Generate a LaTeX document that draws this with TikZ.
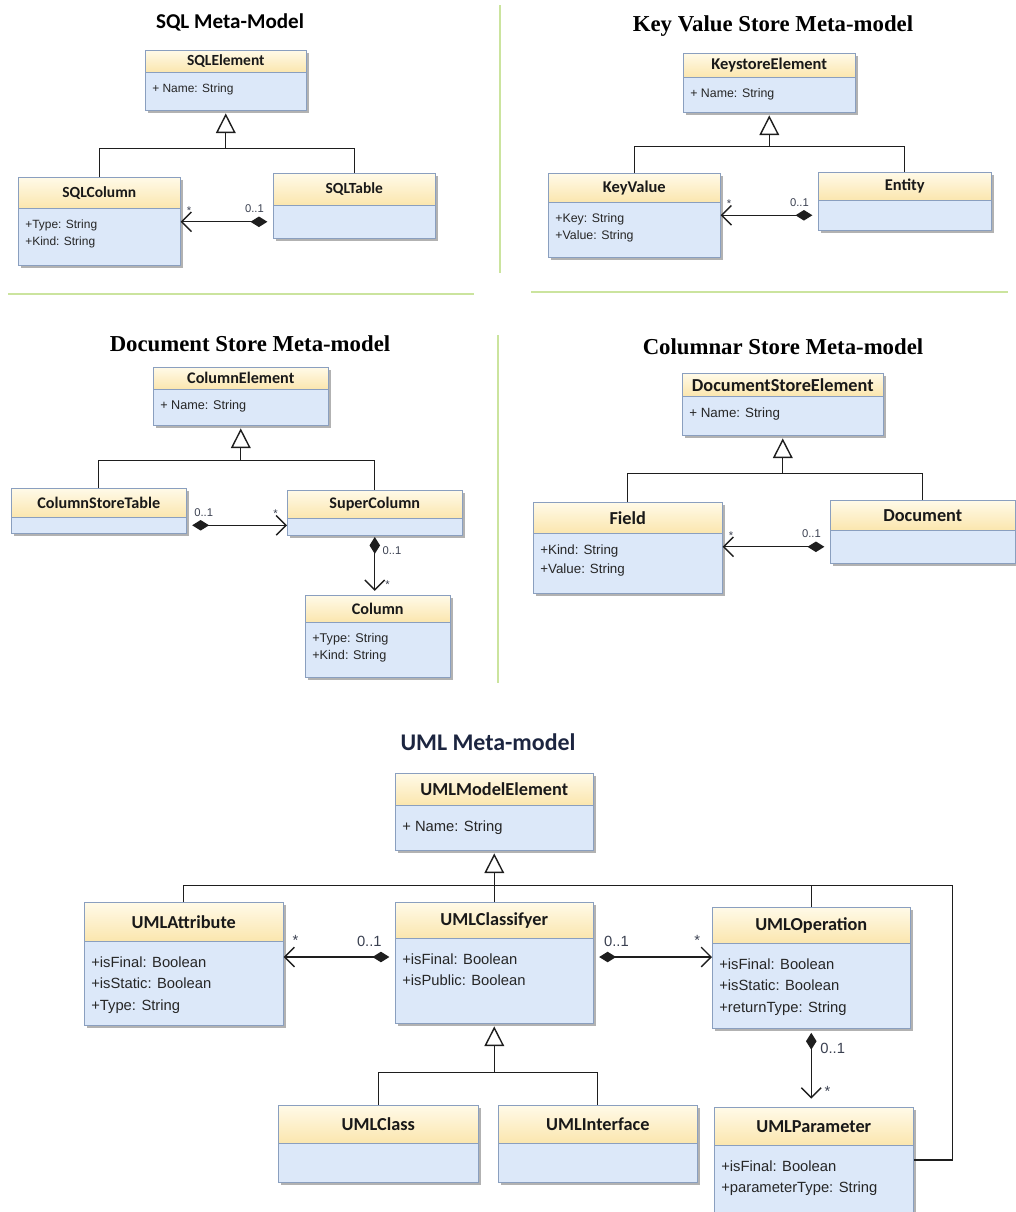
\documentclass[tikz,border=0pt]{standalone}
\usepackage{fontspec}
\setmainfont{Liberation Sans}
\newfontfamily\calibrifont{Carlito}
\newfontfamily\timesfont{Liberation Serif}
\usetikzlibrary{arrows.meta}

\definecolor{headtop}{HTML}{FFFAE8}
\definecolor{headbot}{HTML}{FBE6AE}
\definecolor{bodyfill}{HTML}{DCE8F9}
\definecolor{boxline}{HTML}{8A9FBF}
\definecolor{divgreen}{HTML}{CBE49E}
\definecolor{linecol}{HTML}{1E1E1E}
\definecolor{multcol}{HTML}{3A4050}
\definecolor{umlnavy}{HTML}{1C2540}

\tikzset{
  classhead/.style={draw=boxline, top color=headtop, bottom color=headbot, inner sep=0pt, anchor=north west, text=black!90, namefont},
  classbody/.style={draw=boxline, fill=bodyfill, inner sep=0pt, anchor=north west},
  attrs/.style={anchor=north west, inner xsep=5pt, align=left, text=black!85, attrfont},
  namefont/.style={font=\calibrifont\bfseries\fontsize{11}{13}\selectfont},
  attrfont/.style={font=\fontsize{8.5}{12}\selectfont, inner ysep=8pt},
  boxshadow/.style={fill=black!30},
  tree/.style={draw=linecol, line width=1pt},
  inherit/.style={tree, -{Triangle[length=14pt, width=14pt, fill=white]}, shorten >=2pt},
  comp/.style={draw=linecol, line width=1pt, {Diamond[length=12pt, width=7.5pt]}-{Straight Barb[length=7pt, width=14pt]}, shorten <=4pt},
  mult/.style={font=\fontsize{8}{9}\selectfont, text=multcol, inner sep=1pt},
  sanstitle/.style={font=\calibrifont\bfseries\fontsize{15}{18}\selectfont},
  seriftitle/.style={font=\timesfont\bfseries\fontsize{16.2}{19}\selectfont},
  divider/.style={draw=divgreen, line width=1.2pt}
}

% #1 name, #2 left, #3 top, #4 right, #5 bottom of head, #6 bottom, #7 class, #8 attributes
\newcommand{\classbox}[8]{%
  \fill[boxshadow] (#2+3,#3+3) rectangle (#4+3,#6+3);
  \node[classhead, minimum width={(#4-#2)*0.025cm}, minimum height={(#5-#3)*0.025cm}] (#1-h) at (#2,#3) {#7};
  \node[classbody, minimum width={(#4-#2)*0.025cm}, minimum height={(#6-#5)*0.025cm},
        label={[attrs, name=#1-a]north west:{#8}}] (#1) at (#2,#5) {};
}

\begin{document}
\begin{tikzpicture}[x=0.025cm, y=-0.025cm]
    \useasboundingbox (0,0) rectangle (1016,1212);
    \clip (0,0) rectangle (1016,1212);

    %dividers:
    \draw[divider] (500,5) -- (500,273);
    \draw[divider] (8,294) -- (474,294);
    \draw[divider] (531,292) -- (1008,292);
    \draw[divider] (498,335) -- (498,683);

    %SQL:
    \begin{scope}
        \node[sanstitle] (sqltitle) at (230,22) {SQL Meta-Model};
        \classbox{sqlelem}{145}{50}{306}{72}{110}{SQLElement}{+ Name: String}
        \classbox{sqlcol}{18}{177}{180}{208}{265}{SQLColumn}{+Type: String\\+Kind: String}
        \classbox{sqltab}{273}{173}{435}{205}{238}{SQLTable}{}
        \path (sqlelem.south) ++(0,38) coordinate (sqlj);
        \draw[tree] (sqlcol-h.north) |- (sqlj) -| (sqltab-h.north);
        \draw[inherit] (sqlj) -- (sqlelem.south);
        \draw[comp] (sqltab.west) -- (sqltab.west -| sqlcol.east)
            node[mult, pos=0, anchor=south east, xshift=-5pt, yshift=5pt] (sqlm1) {0..1}
            node[mult, pos=1, anchor=south west, xshift=3pt, yshift=4pt] (sqlm2) {*};
    \end{scope}

    %key value:
    \begin{scope}[namefont/.style={font=\calibrifont\bfseries\fontsize{11.7}{13}\selectfont},
                  attrfont/.style={font=\fontsize{8.8}{12}\selectfont, inner ysep=8pt}]
        \node[seriftitle] (kvtitle) at (773,26) {Key Value Store Meta-model};
        \classbox{kselem}{683}{53}{855}{77}{112}{KeystoreElement}{+ Name: String}
        \classbox{keyval}{548}{173}{720}{202}{257}{KeyValue}{+Key: String\\+Value: String}
        \classbox{entity}{818}{172}{991}{200}{230}{Entity}{}
        \path (kselem.south) ++(0,34) coordinate (ksj);
        \draw[tree] (keyval-h.north) |- (ksj) -| (entity-h.north);
        \draw[inherit] (ksj) -- (kselem.south);
        \draw[comp] (entity.west) -- (entity.west -| keyval.east)
            node[mult, pos=0, anchor=south east, xshift=-5pt, yshift=5pt] (kvm1) {0..1}
            node[mult, pos=1, anchor=south west, xshift=3pt, yshift=4pt] (kvm2) {*};
    \end{scope}

    %document store:
    \begin{scope}[namefont/.style={font=\calibrifont\bfseries\fontsize{11.5}{13}\selectfont},
                  attrfont/.style={font=\fontsize{9}{12}\selectfont, inner ysep=8pt}]
        \node[seriftitle] (dstitle) at (250,344) {Document Store Meta-model};
        \classbox{colelem}{153}{367}{328}{389}{425}{ColumnElement}{+ Name: String}
        \classbox{cstable}{11}{488}{186}{517}{533}{ColumnStoreTable}{}
        \classbox{supcol}{287}{490}{462}{518}{535}{SuperColumn}{}
        \classbox{column}{305}{595}{450}{622}{677}{Column}{+Type: String\\+Kind: String}
        \path (colelem.south) ++(0,35) coordinate (colj);
        \draw[tree] (cstable-h.north) |- (colj) -| (supcol-h.north);
        \draw[inherit] (colj) -- (colelem.south);
        \draw[comp] (cstable.east) -- (cstable.east -| supcol.west)
            node[mult, pos=0, anchor=south west, xshift=4pt, yshift=5pt] (dsm1) {0..1}
            node[mult, pos=1, anchor=south east, xshift=-5pt, yshift=4pt] (dsm2) {*};
        \draw[comp, shorten <=1pt, shorten >=3pt] (supcol.south) -- (supcol.south |- column-h.north)
            node[mult, pos=0.25, anchor=west, xshift=4pt] (dsm3) {0..1}
            node[mult, pos=0.83, anchor=west, xshift=6pt] (dsm4) {*};
    \end{scope}

    %columnar store:
    \begin{scope}[namefont/.style={font=\calibrifont\bfseries\fontsize{13}{14}\selectfont},
                  attrfont/.style={font=\fontsize{9.5}{13.5}\selectfont, inner ysep=8.5pt}]
        \node[seriftitle] (cstitle) at (783,347) {Columnar Store Meta-model};
        \classbox{dselem}{682}{373}{883}{396}{435}{DocumentStoreElement}{+ Name: String}
        \classbox{field}{533}{502}{722}{533}{593}{Field}{+Kind: String\\+Value: String}
        \classbox{document}{830}{500}{1015}{530}{563}{Document}{}
        \path (dselem.south) ++(0,38) coordinate (dsj);
        \draw[tree] (field-h.north) |- (dsj) -| (document-h.north);
        \draw[inherit] (dsj) -- (dselem.south);
        \draw[comp] (document.west) -- (document.west -| field.east)
            node[mult, pos=0, anchor=south east, xshift=-5pt, yshift=5pt] (csm1) {0..1}
            node[mult, pos=1, anchor=south west, xshift=3pt, yshift=4pt] (csm2) {*};
    \end{scope}

    %UML:
    \begin{scope}[namefont/.style={font=\calibrifont\bfseries\fontsize{13}{15}\selectfont},
                  attrfont/.style={font=\fontsize{10.5}{15.3}\selectfont, inner ysep=11pt},
                  mult/.style={font=\fontsize{10.5}{12}\selectfont, text=multcol, inner sep=1pt}]
        \node[sanstitle, font=\calibrifont\bfseries\fontsize{17}{20}\selectfont, text=umlnavy] (umltitle) at (488,742) {UML Meta-model};
        \classbox{umlme}{395}{773}{593}{805}{850}{UMLModelElement}{+ Name: String}
        \classbox{umlattr}{84}{902}{283}{941}{1025}{UMLAttribute}{+isFinal: Boolean\\+isStatic: Boolean\\+Type: String}
        \classbox{umlcls}{395}{902}{593}{938}{1023}{UMLClassifyer}{+isFinal: Boolean\\+isPublic: Boolean}
        \classbox{umlop}{712}{907}{910}{943}{1028}{UMLOperation}{+isFinal: Boolean\\+isStatic: Boolean\\+returnType: String}
        \classbox{umlclass}{278}{1105}{478}{1143}{1182}{UMLClass}{}
        \classbox{umlint}{498}{1105}{697}{1143}{1182}{UMLInterface}{}
        \classbox{umlpar}{714}{1107}{913}{1145}{1222}{UMLParameter}{+isFinal: Boolean\\+parameterType: String}
        %generalisation up:
        \path (umlme.south) ++(0,35) coordinate (umlj);
        \path (umlj -| umlpar.east) ++(39,0) coordinate (umlr);
        \path (umlpar.north east) ++(0,15) coordinate (umlpr);
        \draw[tree] (umlattr-h.north) |- (umlr) |- (umlpr);
        \draw[tree] (umlj) -- (umlcls-h.north);
        \draw[tree] (umlop-h.north) -- (umlop-h.north |- umlj);
        \draw[inherit] (umlj) -- (umlme.south);
        %generalisation down:
        \path (umlcls.south) ++(0,49) coordinate (umlj2);
        \draw[tree] (umlclass-h.north) |- (umlj2) -| (umlint-h.north);
        \draw[inherit] (umlj2) -- (umlcls.south);
        %compositions:
        \path (umlcls.north west) ++(0,19) coordinate (umlcl);
        \path (umlcls.north east) ++(0,19) coordinate (umlcr);
        \draw[comp] (umlcl) -- (umlcl -| umlattr.east)
            node[mult, pos=0, anchor=south east, xshift=-8pt, yshift=6pt] (umlm1) {0..1}
            node[mult, pos=1, anchor=south west, xshift=5pt, yshift=7pt] (umlm2) {*};
        \draw[comp] (umlcr) -- (umlcr -| umlop.west)
            node[mult, pos=0, anchor=south west, xshift=6pt, yshift=6pt] (umlm3) {0..1}
            node[mult, pos=1, anchor=south east, xshift=-7pt, yshift=7pt] (umlm4) {*};
        \draw[comp, shorten <=3pt, shorten >=6pt] (umlop.south) -- (umlop.south |- umlpar-h.north)
            node[mult, pos=0.25, anchor=west, xshift=5pt] (umlm5) {0..1}
            node[mult, pos=0.8, anchor=west, xshift=8pt] (umlm6) {*};
    \end{scope}

\end{tikzpicture}
\end{document}
